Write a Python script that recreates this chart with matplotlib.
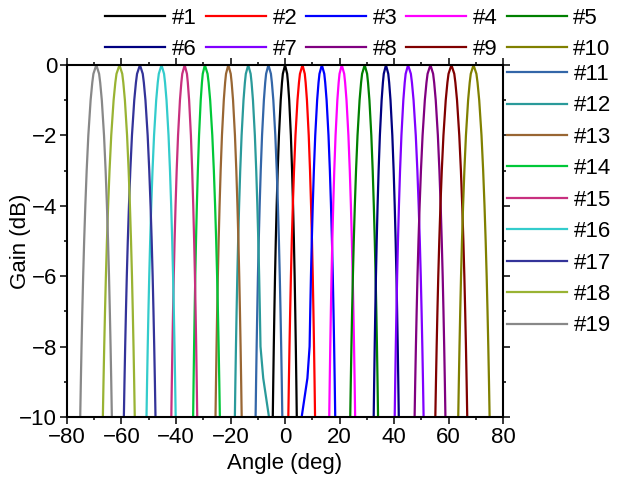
import numpy as np
import matplotlib.pyplot as plt

plt.rcParams['font.family'] = ['Liberation Sans', 'DejaVu Sans']

beams = ['#1', '#2', '#3', '#4', '#5', '#6', '#7', '#8', '#9', '#10',
         '#11', '#12', '#13', '#14', '#15', '#16', '#17', '#18', '#19']
# beam peak angle (deg) and the -10 dB crossings on each side
peaks = [0.0, 6.4, 13.5, 20.8, 29.2, 37.0, 45.1, 53.3, 61.0, 69.1,
         -6.1, -13.5, -20.8, -29.4, -36.8, -45.3, -53.2, -60.7, -69.2]
left_10db = [-4.5, 1.2, 6.1, 16.2, 23.9, 32.5, 40.2, 47.5, 55.1, 63.5,
             -10.8, -18.4, -25.5, -33.7, -41.7, -50.8, -59.1, -66.8, -75.1]
right_10db = [4.3, 11.0, 18.4, 25.7, 34.1, 41.7, 50.8, 58.8, 66.8, 75.0,
              -1.0, -5.9, -15.9, -23.9, -32.2, -40.1, -47.5, -55.1, -63.5]
colors = ['#000000', '#FF0000', '#0000FF', '#FF00FF', '#008000',
          '#000080', '#8000FF', '#800080', '#800000', '#808000',
          '#3366A8', '#2A9A9A', '#996633', '#00C838', '#C8307F',
          '#33CCCC', '#333399', '#99B333', '#888888']

# main-lobe shape: gain vs. offset as fraction of -10 dB half width
profile_gain = [0, -0.25, -0.5, -1, -2, -3, -4, -5, -6, -7, -8, -9, -10]
profile_frac = [0, 0.18, 0.25, 0.354, 0.496, 0.599, 0.683, 0.755, 0.817,
                0.870, 0.918, 0.961, 1.0]

# two beams bend on one flank before -10 dB: side, angle, gain of the bend
kinks = {'#3': ('left', 8.2, -8.9), '#12': ('right', -8.0, -8.9)}


def beam_curve(i):
    pk = peaks[i]
    hw_l = pk - left_10db[i]
    hw_r = right_10db[i] - pk
    kink = kinks.get(beams[i])
    if kink and kink[0] == 'left':
        hw_l = hw_r
    if kink and kink[0] == 'right':
        hw_r = hw_l

    xl, yl = [], []
    for g, f in zip(profile_gain, profile_frac):
        if kink and kink[0] == 'left' and g < kink[2]:
            break
        xl.append(pk - f * hw_l)
        yl.append(g)
    if kink and kink[0] == 'left':
        xl += [kink[1], left_10db[i]]
        yl += [kink[2], -10]

    xr, yr = [], []
    for g, f in zip(profile_gain, profile_frac):
        if kink and kink[0] == 'right' and g < kink[2]:
            break
        xr.append(pk + f * hw_r)
        yr.append(g)
    if kink and kink[0] == 'right':
        xr += [kink[1], right_10db[i]]
        yr += [kink[2], -10]

    x = xl[::-1] + xr[1:]
    y = yl[::-1] + yr[1:]
    return x, y


fig = plt.figure(figsize=(6.19, 4.87), dpi=100)
ax = fig.add_axes([0.108, 0.144, 0.705, 0.7225])

lines = {}
for i, name in enumerate(beams):
    x, y = beam_curve(i)
    ln, = ax.plot(x, y, color=colors[i], lw=1.6, label=name)
    lines[name] = ln

ax.set_xlim(-80, 80)
ax.set_ylim(-10, 0)
ax.set_xticks(np.arange(-80, 81, 20))
ax.set_xticks(np.arange(-70, 80, 20), minor=True)
ax.set_yticks(np.arange(-10, 1, 2))
ax.set_yticks(np.arange(-9, 0, 2), minor=True)
ax.tick_params(which='both', direction='out', top=True, right=True, width=1.1,
               labelsize=16, pad=2)
ax.tick_params(which='major', length=5)
ax.tick_params(which='minor', length=2.5)
for sp in ax.spines.values():
    sp.set_linewidth(1.5)

ax.set_xlabel('Angle (deg)', fontsize=16, labelpad=4)
ax.set_ylabel('Gain (dB)', fontsize=16)
ax.yaxis.set_label_coords(-0.083, 0.5)

# top legend: #1-#5 first row, #6-#10 second row
top_order = ['#1', '#6', '#2', '#7', '#3', '#8', '#4', '#9', '#5', '#10']
leg1 = fig.legend([lines[n] for n in top_order], top_order, ncol=5,
                  loc='upper left', bbox_to_anchor=(0.163, 0.993),
                  frameon=False, fontsize=16, handlelength=2.7,
                  handletextpad=0.3, columnspacing=0.4, labelspacing=0.46,
                  borderpad=0.2, borderaxespad=0)

side = beams[10:]
leg2 = fig.legend([lines[n] for n in side], side, ncol=1,
                  loc='upper left', bbox_to_anchor=(0.812, 0.878),
                  frameon=False, fontsize=16, handlelength=2.7,
                  handletextpad=0.3, labelspacing=0.47,
                  borderpad=0.2, borderaxespad=0)

fig.savefig('out.png', dpi=100)
